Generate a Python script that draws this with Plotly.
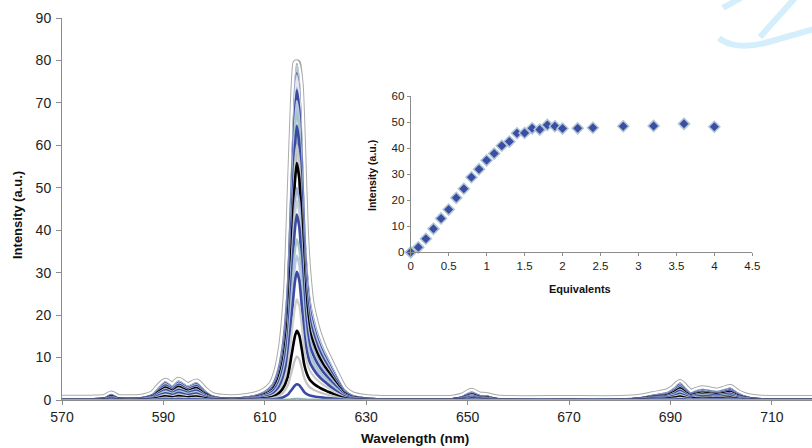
import plotly.graph_objects as go

# ---------------- data ----------------
# wavelength knots (nm) and intensity of the strongest spectrum (a.u.)
wavelength = [570, 576, 578.5, 579.7, 581, 584, 586, 588, 589.2, 590.4, 591.8, 593.0, 594.8, 596.5,
              598.0, 599.5, 601.5, 604, 606.5, 608.5, 610, 611.5, 612.5, 613.5, 614.5, 615.3, 615.9,
              616.3, 616.8, 617.3, 617.8, 618.3, 618.9, 619.6, 620.4, 621.5, 622.5, 623.5, 624.5,
              625.5, 627, 629, 632, 640, 647, 649, 650.8, 652.2, 653.8, 655.5, 658, 670, 680, 684,
              686.5, 689.5, 690.8, 691.9, 693.0, 694.0, 695.0, 696.3, 698, 699.2, 700.6, 701.8, 703,
              704.4, 706, 708, 712, 718]
top_spectrum = [0.2, 0.2, 0.4, 1.2, 0.4, 0.3, 0.5, 1.3, 2.9, 4.2, 3.1, 4.4, 3.1, 4.0,
                2.2, 0.9, 0.4, 0.3, 0.6, 1.1, 1.9, 3.5, 6.4, 12.5, 26, 52, 72,
                79.2, 74, 58, 40, 30, 23, 19, 15.5, 12, 9.5, 7, 4.6,
                2.5, 1.1, 0.5, 0.2, 0.1, 0.2, 0.7, 1.8, 1.0, 0.8, 0.3, 0.1, 0.1, 0.1, 0.4,
                1.0, 1.7, 2.7, 3.9, 2.5, 1.5, 2.0, 2.4, 2.1, 1.9, 2.3, 2.7, 1.7,
                0.9, 0.4, 0.2, 0.1, 0.1]

# equivalents added, peak height of each spectrum at 616 nm, and inset intensities
equivalents = [0, 0.1, 0.2, 0.3, 0.4, 0.5, 0.6, 0.7, 0.8, 0.9, 1.0, 1.1, 1.2, 1.3, 1.4, 1.5,
               1.6, 1.7, 1.8, 1.9, 2.0, 2.2, 2.4, 2.8, 3.2, 3.6, 4.0]
peak_heights = [0.3, 3.7, 10.2, 16.3, 23.7, 30.2, 34.0, 37.9, 43.7, 47.0, 50.0, 55.8, 60.0, 64.6,
                68.0, 70.5, 72.9, 73.5, 75.8, 76.5, 77.0, 77.5, 77.8, 78.2, 78.5, 79.2, 78.8]
inset_intensity = [0, 1.9, 5.2, 9.0, 13.0, 16.4, 20.9, 24.4, 28.8, 31.9, 35.3, 37.9, 40.9, 42.5,
                   45.7, 45.8, 47.6, 47.1, 48.9, 48.4, 47.5, 47.6, 47.8, 48.4, 48.5, 49.3, 48.2]

x_ticks = [570, 590, 610, 630, 650, 670, 690, 710]
y_ticks = [0, 10, 20, 30, 40, 50, 60, 70, 80, 90]
inset_x_ticks = [0, 0.5, 1, 1.5, 2, 2.5, 3, 3.5, 4, 4.5]
inset_x_labels = ["0", "0.5", "1", "1.5", "2", "2.5", "3", "3.5", "4", "4.5"]
inset_y_ticks = [0, 10, 20, 30, 40, 50, 60]

# ---------------- styles ----------------
BLUE = "#3A4AA0"
colors = ["#8FAFB0", BLUE, "#C4C4C4", "#000000", "#CFCFCF", BLUE, "#B9C6E4", "#A8C6CA",
          BLUE, "#C8CDD8", "#9FB2D6", "#000000", "#C8C8C8", BLUE, "#A8C6CA", "#B9C6E4",
          BLUE, "#9FB2D6", "#E6E8EE", "#C8CDD8", "#5A6AB0", "#B9C6E4", "#A8C6CA", "#D0D0D0",
          "#9FB2D6", "#9A9A9A", "#DADDE6"]

W, H = 812, 448
L, R, T, B = 62, 0, 18, 48
PW, PH = W - L - R, H - T - B


def px(x):
    return (x - L) / PW


def py(y):
    return (H - B - y) / PH


FONT = "Liberation Sans, Arial, sans-serif"
fig = go.Figure()

top_max = max(top_spectrum)
# outline (glow) around the strongest spectrum
for wdt, col in [(9, "#ABABAB"), (7, "#FFFFFF")]:
    fig.add_trace(go.Scatter(x=wavelength, y=top_spectrum, mode="lines",
                             line=dict(color=col, width=wdt, shape="spline", smoothing=0.6),
                             hoverinfo="skip", showlegend=False))

order = sorted(range(len(equivalents)), key=lambda i: -peak_heights[i])
for i in order:
    ys = [v * peak_heights[i] / top_max for v in top_spectrum]
    col = colors[i]
    w = 2.6 if col in (BLUE, "#000000") else 2.2
    fig.add_trace(go.Scatter(x=wavelength, y=ys, mode="lines",
                             line=dict(color=col, width=w, shape="spline", smoothing=0.6),
                             name=f"{equivalents[i]} eq", showlegend=False))

# inset
fig.add_trace(go.Scatter(x=equivalents, y=inset_intensity, mode="markers", xaxis="x2", yaxis="y2",
                         cliponaxis=False,
                         marker=dict(symbol="diamond", size=8.5, color="#3C4EA3",
                                     line=dict(color="#AFC6D6", width=1.5)),
                         showlegend=False))

axis_common = dict(showgrid=False, zeroline=False, showline=True, linecolor="#8C8C8C", linewidth=1,
                   ticks="outside", tickcolor="#8C8C8C", automargin=False)

fig.update_layout(
    width=W, height=H, margin=dict(l=L, r=R, t=T, b=B, autoexpand=False),
    paper_bgcolor="white", plot_bgcolor="white", showlegend=False,
    xaxis=dict(range=[570, 570 + PW / 5.07], tickvals=x_ticks, ticklen=4, **axis_common),
    yaxis=dict(range=[0, 90], tickvals=y_ticks, ticklen=5, ticklabelstandoff=2, **axis_common),
    xaxis2=dict(domain=[px(410.7), px(752.3)], anchor="y2", range=[0, 4.5], tickvals=inset_x_ticks,
                ticktext=inset_x_labels, ticklen=3, **axis_common),
    yaxis2=dict(domain=[py(252.3), py(96)], anchor="x2", range=[0, 60], tickvals=inset_y_ticks,
                ticklen=3, **axis_common),
)
for ax, size in (("xaxis", 14), ("yaxis", 14), ("xaxis2", 11.5), ("yaxis2", 11.5)):
    fig.layout[ax].tickfont = dict(family=FONT, color="#222222", size=size)

annots = [
    dict(text="<b>Wavelength (nm)</b>", x=px(415), y=py(438), size=13.5, angle=0),
    dict(text="<b>Intensity (a.u.)</b>", x=px(17), y=py(215), size=13, angle=-90),
    dict(text="<b>Equivalents</b>", x=px(580), y=py(289), size=11, angle=0),
    dict(text="<b>Intensity (a.u.)</b>", x=px(372), y=py(176), size=10.5, angle=-90),
]
for a in annots:
    fig.add_annotation(text=a["text"], x=a["x"], y=a["y"], xref="paper", yref="paper",
                       showarrow=False, textangle=a["angle"], xanchor="center", yanchor="middle",
                       font=dict(family=FONT, size=a["size"], color="#111111"))

# light-blue logo fragment in top-right corner (decoration)
WM = "#D4EEFB"


def P(x, y):
    return f"{px(x):.4f},{py(y):.4f}"


fig.add_shape(type="path", xref="paper", yref="paper",
              path=f"M{P(723, 8)} L{P(741, -2)}", line=dict(color=WM, width=6), layer="above")
fig.add_shape(type="path", xref="paper", yref="paper",
              path=f"M{P(795, -2)} L{P(760, 37)}", line=dict(color=WM, width=6), layer="above")
fig.add_shape(type="path", xref="paper", yref="paper",
              path=f"M{P(719, 38)} C{P(728, 46)} {P(745, 48)} {P(765, 43)} L{P(814, 29)}",
              line=dict(color=WM, width=6), layer="above")

fig.write_html("out.html", config={"displayModeBar": False},
               post_script="document.body.style.margin='0';document.body.style.overflow='hidden';")
